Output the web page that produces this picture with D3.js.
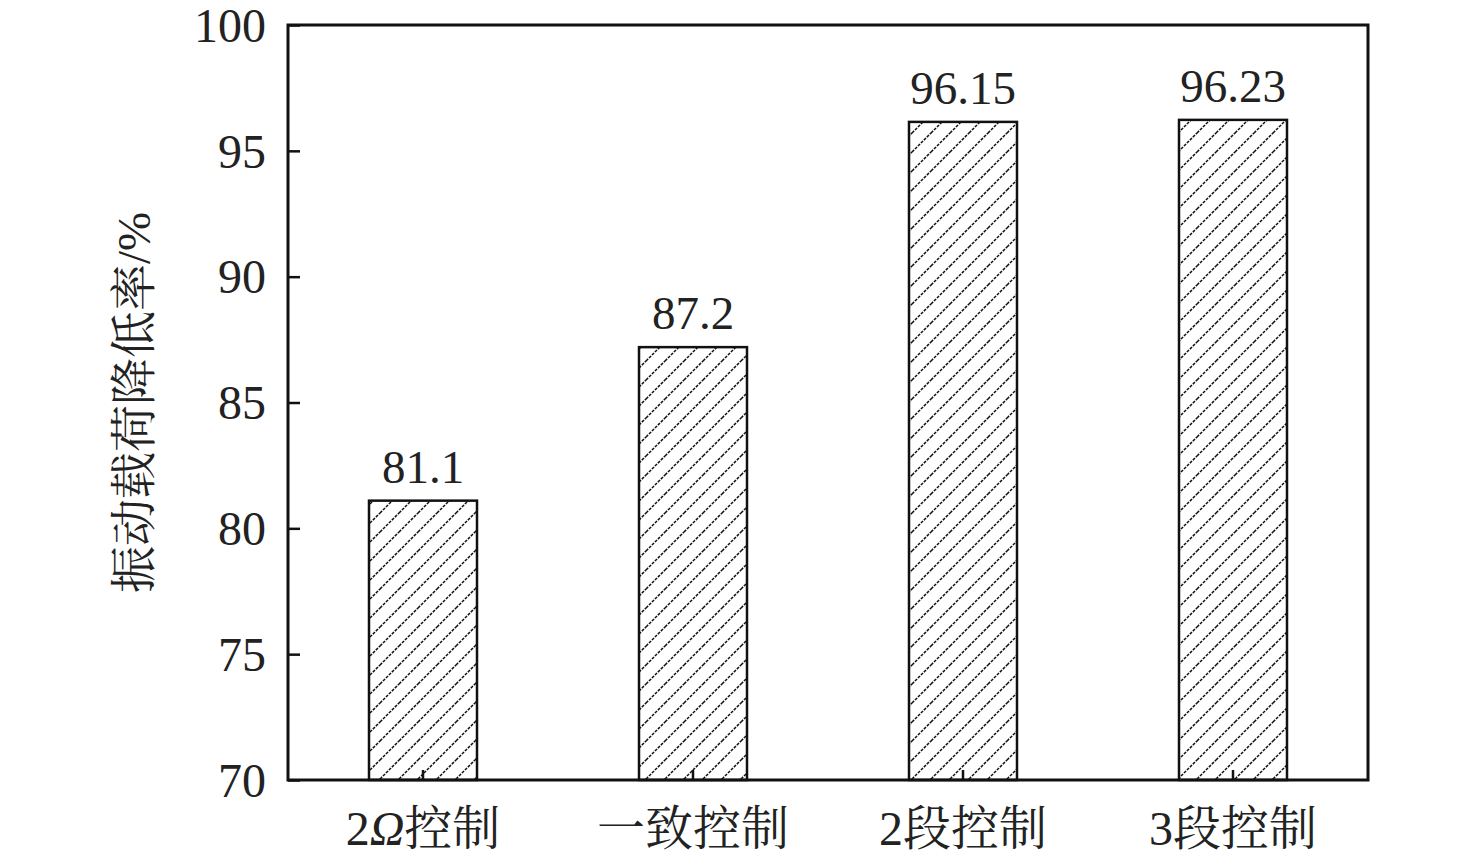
<!DOCTYPE html>
<html><head><meta charset="utf-8">
<script src="https://cdn.jsdelivr.net/npm/d3@7"></script>
<style>body{margin:0;background:#fff} svg text{font-family:'Liberation Serif','Noto Serif CJK SC',serif}</style>
</head><body>
<svg id="c" width="1476" height="861"></svg>
<script>
const categories = ["2Ω控制", "一致控制", "2段控制", "3段控制"];
const values = [81.1, 87.2, 96.15, 96.23];
const valueLabels = ["81.1", "87.2", "96.15", "96.23"];
const yTicks = [70, 75, 80, 85, 90, 95, 100];
const yTitle = "振动载荷降低率/%";

const svg = d3.select("#c");
const m = {l: 288, r: 1368, t: 25, b: 780};
const x = d3.scaleBand().domain(categories).range([m.l, m.r]).paddingInner(0.6).paddingOuter(0.3);
const y = d3.scaleLinear().domain([70, 100]).range([m.b, m.t]);
const fam = "'Liberation Serif','Noto Serif CJK SC',serif";

// hatch pattern
const defs = svg.append("defs");
const s = 19;
const pat = defs.append("pattern").attr("id", "hatch").attr("patternUnits", "userSpaceOnUse")
  .attr("width", s).attr("height", s);
pat.append("rect").attr("width", s).attr("height", s).attr("fill", "#fff");
pat.append("path").attr("d", `M0,${s} L${s},0 M${-s/2},${s/2} L${s/2},${-s/2} M${s/2},${s*1.5} L${s*1.5},${s/2}`)
  .attr("stroke", "#111").attr("stroke-width", 1.5).attr("stroke-dasharray", "3,1.2").attr("fill", "none");

// bars
svg.selectAll("rect.bar").data(values).enter().append("rect").attr("class", "bar")
  .attr("x", (d, i) => x(categories[i]))
  .attr("y", d => y(d))
  .attr("width", x.bandwidth())
  .attr("height", d => y(70) - y(d))
  .attr("fill", "url(#hatch)")
  .attr("stroke", "#111").attr("stroke-width", 2.5);

// value labels
svg.selectAll("text.val").data(values).enter().append("text").attr("class", "val")
  .attr("x", (d, i) => x(categories[i]) + x.bandwidth()/2)
  .attr("y", d => y(d) - 18)
  .attr("text-anchor", "middle").style("font-family", fam).style("font-size", "47px").attr("fill", "#222")
  .text((d, i) => valueLabels[i]);

// y axis (inward ticks)
const ya = svg.append("g").attr("transform", `translate(${m.l},0)`)
  .call(d3.axisRight(y).tickValues(yTicks).tickSize(12).tickFormat(""));
ya.select(".domain").remove();
ya.selectAll("line").attr("stroke", "#111").attr("stroke-width", 2.5);
svg.selectAll("text.yt").data(yTicks).enter().append("text").attr("class", "yt")
  .attr("x", m.l - 22).attr("y", d => y(d)).attr("dy", "0.35em")
  .attr("text-anchor", "end").style("font-family", fam).style("font-size", "48px").attr("fill", "#222")
  .text(d => d);

// x axis (inward ticks)
const xa = svg.append("g").attr("transform", `translate(0,${m.b})`)
  .call(d3.axisTop(x).tickSize(10).tickFormat(""));
xa.select(".domain").remove();
xa.selectAll("line").attr("stroke", "#111").attr("stroke-width", 2.5);
const xl = svg.selectAll("text.xl").data(categories).enter().append("text").attr("class", "xl")
  .attr("x", d => x(d) + x.bandwidth()/2).attr("y", 845)
  .attr("text-anchor", "middle").style("font-family", fam).style("font-size", "48px").attr("fill", "#222");
xl.each(function(d) {
  const t = d3.select(this);
  if (d.includes("Ω")) {
    const parts = d.split("Ω");
    t.append("tspan").text(parts[0]);
    t.append("tspan").style("font-style", "italic").text("Ω");
    t.append("tspan").text(parts[1]);
  } else t.text(d);
});

// frame
svg.append("rect").attr("x", m.l).attr("y", m.t).attr("width", m.r - m.l).attr("height", m.b - m.t)
  .attr("fill", "none").attr("stroke", "#111").attr("stroke-width", 3);

// y title
svg.append("text").attr("transform", `translate(150,${(m.t + m.b)/2}) rotate(-90)`)
  .attr("text-anchor", "middle").style("font-family", fam).style("font-size", "47px").attr("fill", "#222")
  .text(yTitle);
</script>
</body></html>
